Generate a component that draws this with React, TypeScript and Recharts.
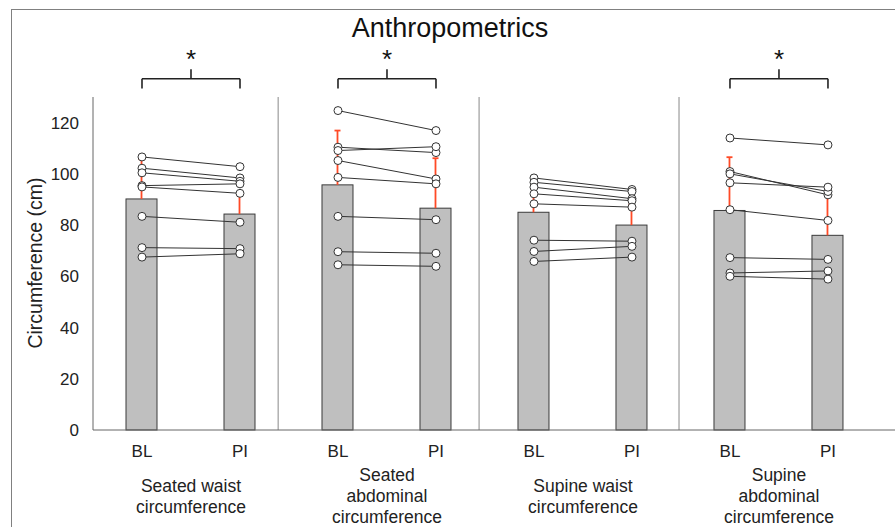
import React from 'react';
import { ComposedChart, Bar, Line, XAxis, YAxis, ReferenceLine, ReferenceDot } from 'recharts';

const CATEGORIES = ['BL', 'PI', 'BL', 'PI', 'BL', 'PI', 'BL', 'PI'];
const GROUP_LABELS = [
  ['Seated waist', 'circumference'],
  ['Seated', 'abdominal', 'circumference'],
  ['Supine waist', 'circumference'],
  ['Supine', 'abdominal', 'circumference'],
];
const MEANS = [90.2, 84.3, 95.7, 86.6, 85.0, 80.0, 85.7, 76.0];
const SD = [15.5, 8.5, 21.2, 19.5, 9.0, 8.0, 20.8, 17.0];
// one row per participant, values in category order
const SUBJECTS = [
  [106.6, 102.8, 124.7, 116.9, 98.4, 93.9, 114.0, 111.3],
  [102.2, 98.4, 110.4, 108.3, 96.7, 93.1, 100.9, 91.8],
  [100.4, 97.1, 109.1, 110.6, 94.8, 90.3, 100.0, 93.1],
  [95.4, 96.1, 105.2, 98.0, 92.2, 89.5, 96.5, 94.8],
  [94.9, 92.4, 98.6, 96.1, 88.3, 87.0, 86.0, 81.8],
  [83.4, 81.1, 83.4, 82.1, 74.1, 73.7, 67.3, 66.6],
  [71.2, 70.8, 69.6, 69.0, 69.7, 71.7, 61.3, 62.1],
  [67.5, 68.8, 64.5, 63.9, 65.8, 67.5, 60.0, 58.9],
];
const SIGNIFICANT_GROUPS = [0, 1, 3];
const SEPARATORS = [1.39, 3.44, 5.48];
const Y_TICKS = [0, 20, 40, 60, 80, 100, 120];

const data = CATEGORIES.map((name, i) => {
  const row: Record<string, any> = { pos: i, name, mean: MEANS[i], sd: SD[i] };
  const group = Math.floor(i / 2);
  SUBJECTS.forEach((vals, s) => {
    row[`a${s}`] = group % 2 === 0 ? vals[i] : null;
    row[`b${s}`] = group % 2 === 1 ? vals[i] : null;
  });
  return row;
});

const FONT = '"Liberation Sans", Arial, sans-serif';
const X_DOMAIN = [-0.5, 7.684];

// bar with an upward-only error whisker
function BarWithError(props: any) {
  const { x, y, width, height, payload } = props;
  const perUnit = height / payload.mean;
  const top = y - payload.sd * perUnit;
  const cx = x + width / 2;
  return (
    <g>
      <rect x={x} y={y} width={width} height={height} fill="#bfbfbf" stroke="#3a3a3a" strokeWidth={1} />
      <line x1={cx} x2={cx} y1={y} y2={top} stroke="#ff4a26" strokeWidth={1.8} />
      <line x1={cx - 3} x2={cx + 3} y1={top} y2={top} stroke="#ff4a26" strokeWidth={1.8} />
    </g>
  );
}

function GroupTick(props: any) {
  const { x, y, payload } = props;
  const lines = GROUP_LABELS[Math.round((payload.value - 0.5) / 2)] || [];
  const n = lines.length;
  return (
    <text x={x} y={y} textAnchor="middle" fill="#222" fontSize={17.5} fontFamily={FONT}>
      {lines.map((l, k) => (
        <tspan key={k} x={x} y={y + 42 + (k - (n - 1) / 2) * 21}>{l}</tspan>
      ))}
    </text>
  );
}

export default function App() {
  const lineKeys: string[] = [];
  SUBJECTS.forEach((_, s) => { lineKeys.push(`a${s}`, `b${s}`); });

  return (
    <div style={{ position: 'absolute', left: 0, top: 0, width: 895, height: 527, overflow: 'hidden', background: '#fff', fontFamily: FONT }}>
      <div style={{ position: 'absolute', left: 11, top: 9, width: 900, height: 540, border: '1px solid #808080' }} />
      <div style={{ position: 'absolute', left: 450, top: 28, transform: 'translate(-50%, -50%)', fontSize: 27, color: '#111', whiteSpace: 'nowrap' }}>
        Anthropometrics
      </div>
      <div style={{ position: 'absolute', left: 35, top: 263, transform: 'translate(-50%, -50%) rotate(-90deg)', fontSize: 19.5, color: '#222', whiteSpace: 'nowrap' }}>
        Circumference (cm)
      </div>
      <div style={{ position: 'absolute', left: 0, top: 0 }}>
        <ComposedChart width={895} height={527} data={data} margin={{ top: 97, right: 0, bottom: 0, left: 0 }}>
          <XAxis xAxisId="a" dataKey="pos" type="number" domain={X_DOMAIN} allowDataOverflow
            ticks={[0, 1, 2, 3, 4, 5, 6, 7]} tickFormatter={(v) => CATEGORIES[v]} height={30}
            axisLine={{ stroke: '#666' }} tickLine={false} tickSize={6} tickMargin={9}
            tick={{ fill: '#222', fontSize: 17, fontFamily: FONT }} />
          <XAxis xAxisId="b" dataKey="pos" type="number" domain={X_DOMAIN} allowDataOverflow
            ticks={[0.5, 2.5, 4.5, 6.5]} height={67} axisLine={false} tickLine={false}
            tickSize={0} tickMargin={0} tick={<GroupTick />} />
          <YAxis domain={[0, 130]} ticks={Y_TICKS} width={93} axisLine={{ stroke: '#666' }}
            tickLine={false} tickSize={6} tickMargin={8}
            tick={{ fill: '#222', fontSize: 17, fontFamily: FONT }} />
          {SEPARATORS.map((x) => (
            <ReferenceLine key={x} xAxisId="a" x={x} stroke="#b0b0b0" strokeWidth={1.5} />
          ))}
          <Bar xAxisId="a" dataKey="mean" barSize={31} shape={<BarWithError />} isAnimationActive={false} />
          {lineKeys.map((k) => (
            <Line key={k} xAxisId="a" dataKey={k} stroke="#333" strokeWidth={1}
              dot={{ r: 4, fill: '#fff', stroke: '#333', strokeWidth: 1 }} activeDot={false}
              connectNulls={false} isAnimationActive={false} />
          ))}
          {SIGNIFICANT_GROUPS.map((g) => (
            <React.Fragment key={g}>
              <ReferenceLine xAxisId="a" ifOverflow="visible" stroke="#222" strokeWidth={1.6}
                segment={[{ x: g * 2, y: 133.3 }, { x: g * 2, y: 137.1 }]} />
              <ReferenceLine xAxisId="a" ifOverflow="visible" stroke="#222" strokeWidth={1.6}
                segment={[{ x: g * 2 + 1, y: 133.3 }, { x: g * 2 + 1, y: 137.1 }]} />
              <ReferenceLine xAxisId="a" ifOverflow="visible" stroke="#222" strokeWidth={1.6}
                segment={[{ x: g * 2, y: 137.1 }, { x: g * 2 + 1, y: 137.1 }]} />
              <ReferenceLine xAxisId="a" ifOverflow="visible" stroke="#222" strokeWidth={1.6}
                segment={[{ x: g * 2 + 0.5, y: 137.1 }, { x: g * 2 + 0.5, y: 140.8 }]} />
              <ReferenceDot xAxisId="a" x={g * 2 + 0.5} y={145} r={0} ifOverflow="visible"
                label={{ value: '*', position: 'center', fontSize: 26, fill: '#111', fontFamily: FONT }} />
            </React.Fragment>
          ))}
        </ComposedChart>
      </div>
    </div>
  );
}
